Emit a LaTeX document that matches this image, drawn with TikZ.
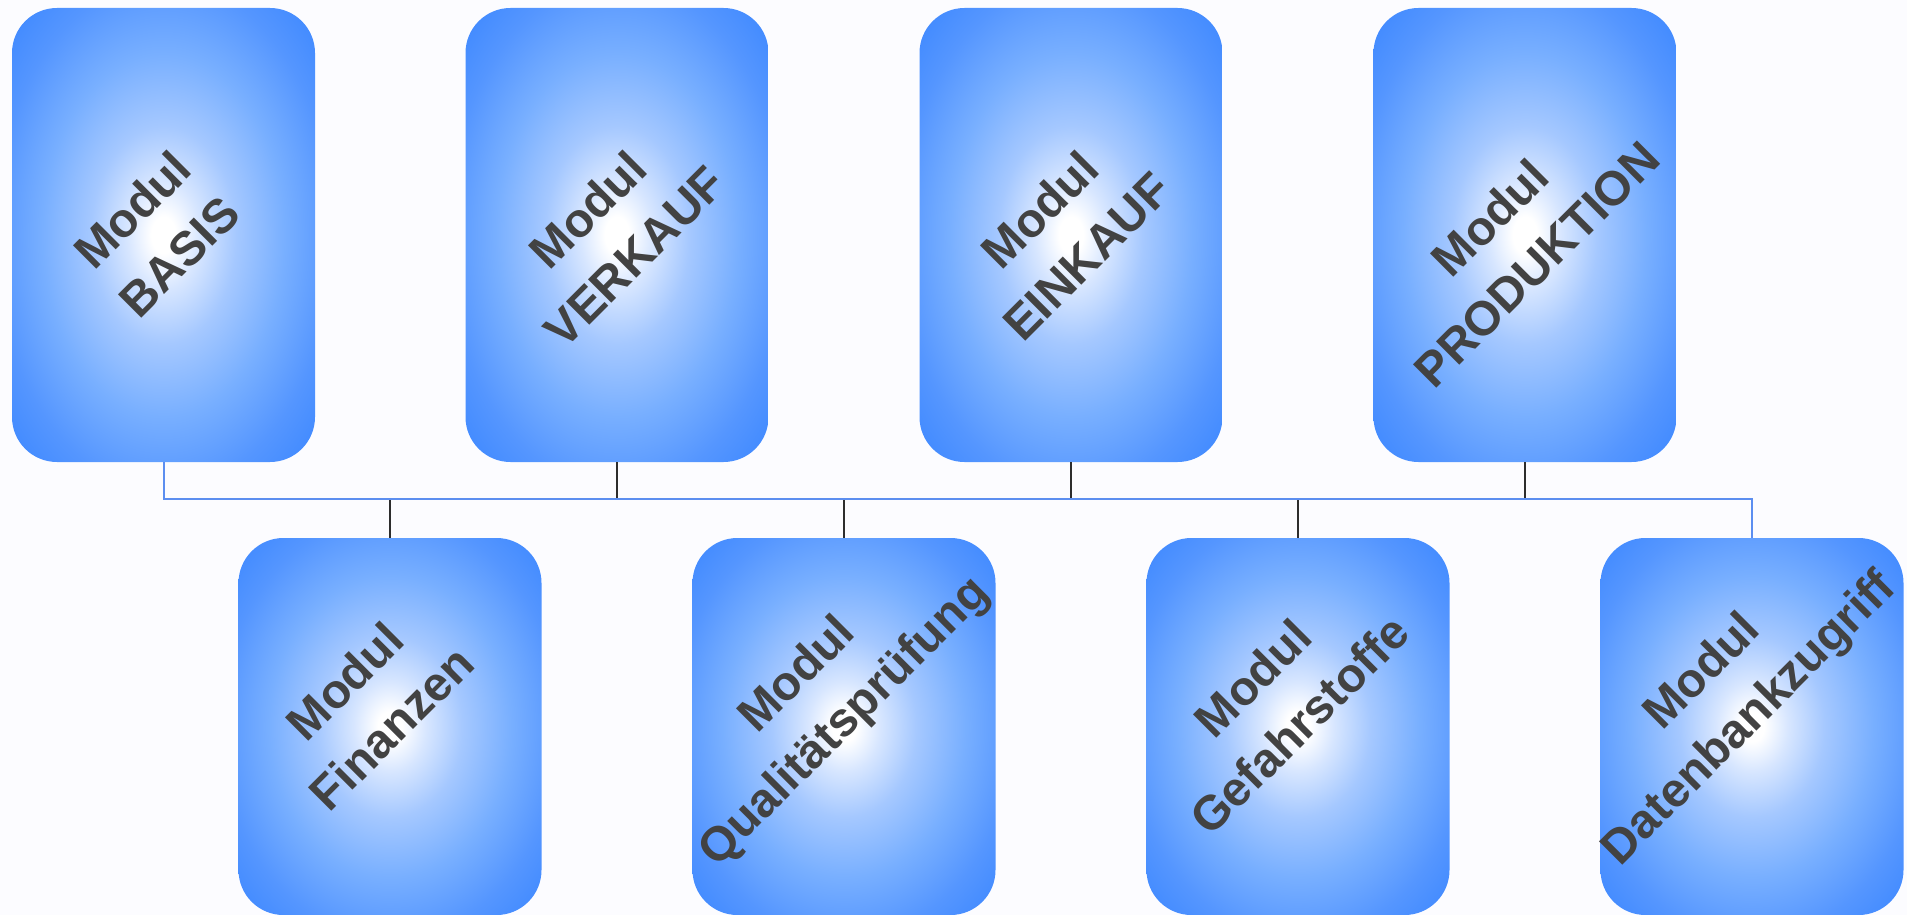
\documentclass[tikz,border=0pt]{standalone}
\usepackage{fontspec}
\setmainfont{Liberation Sans}
\definecolor{bin}{RGB}{215,230,255}
\definecolor{bmid}{RGB}{165,200,255}
\definecolor{bmid2}{RGB}{120,175,255}
\definecolor{bside}{RGB}{85,150,255}
\definecolor{bedge}{RGB}{45,126,255}
\definecolor{txtgray}{RGB}{66,66,66}
\definecolor{busblue}{RGB}{92,142,240}
\definecolor{stemgray}{RGB}{45,45,45}
\pgfdeclareradialshading{modshade}{\pgfpoint{0bp}{0bp}}{color(0bp)=(white); color(2bp)=(white); color(6bp)=(bin); color(12bp)=(bmid); color(20bp)=(bmid2); color(28bp)=(bside); color(40bp)=(bedge); color(50bp)=(bedge)}
\tikzset{
  modbox/.style={rectangle, rounded corners=45pt, shading=modshade, draw=none, inner sep=0pt, minimum width=303pt},
  topbox/.style={modbox, minimum height=454pt},
  botbox/.style={modbox, minimum height=377pt},
  modtext/.style={rotate=45, align=center, text=txtgray, font=\fontsize{48}{66}\selectfont\bfseries, inner sep=0pt},
  bus/.style={draw=busblue, line width=2pt},
  stem/.style={draw=stemgray, line width=1.8pt}
}
\begin{document}
\begin{tikzpicture}[x=1pt,y=-1pt]
\useasboundingbox (0,0) rectangle (1907,915);
\fill[white!99!blue] (0,0) rectangle (1907,915);
% top row
\node[topbox] (b1) at (163.5,235) {};
\node[topbox] (b2) at (617,235) {};
\node[topbox] (b3) at (1071,235) {};
\node[topbox] (b4) at (1525,235) {};
% bottom row
\node[botbox] (b5) at (390,726.5) {};
\node[botbox] (b6) at (844,726.5) {};
\node[botbox] (b7) at (1298,726.5) {};
\node[botbox] (b8) at (1752,726.5) {};
% texts
\node[modtext] (t1) at ([shift={(-8,-2)}]b1.center) {Modul\\BASIS};
\node[modtext] (t2) at ([shift={(-6,-2)}]b2.center) {Modul\\VERKAUF};
\node[modtext] (t3) at ([shift={(-8,-2)}]b3.center) {Modul\\EINKAUF};
\node[modtext] (t4) at ([shift={(-12,6)}]b4.center) {Modul\\PRODUKTION};
\node[modtext] (t5) at ([shift={(-22,-22)}]b5.center) {Modul\\Finanzen};
\node[modtext] (t6) at ([shift={(-22,-27)}]b6.center) {Modul\\Qualitätsprüfung};
\node[modtext] (t7) at ([shift={(-22,-25)}]b7.center) {Modul\\Gefahrstoffe};
\node[modtext] (t8) at ([shift={(-25,-30)}]b8.center) {Modul\\Datenbankzugriff};
% connectors
\coordinate (busy) at (0,499);
\draw[stem] (b2.south) -- (b2.south |- busy);
\draw[stem] (b3.south) -- (b3.south |- busy);
\draw[stem] (b4.south) -- (b4.south |- busy);
\draw[stem] (b5.north |- busy) -- (b5.north);
\draw[stem] (b6.north |- busy) -- (b6.north);
\draw[stem] (b7.north |- busy) -- (b7.north);
\draw[bus] (b1.south) -- (b1.south |- busy) -| (b8.north);
\end{tikzpicture}
\end{document}
